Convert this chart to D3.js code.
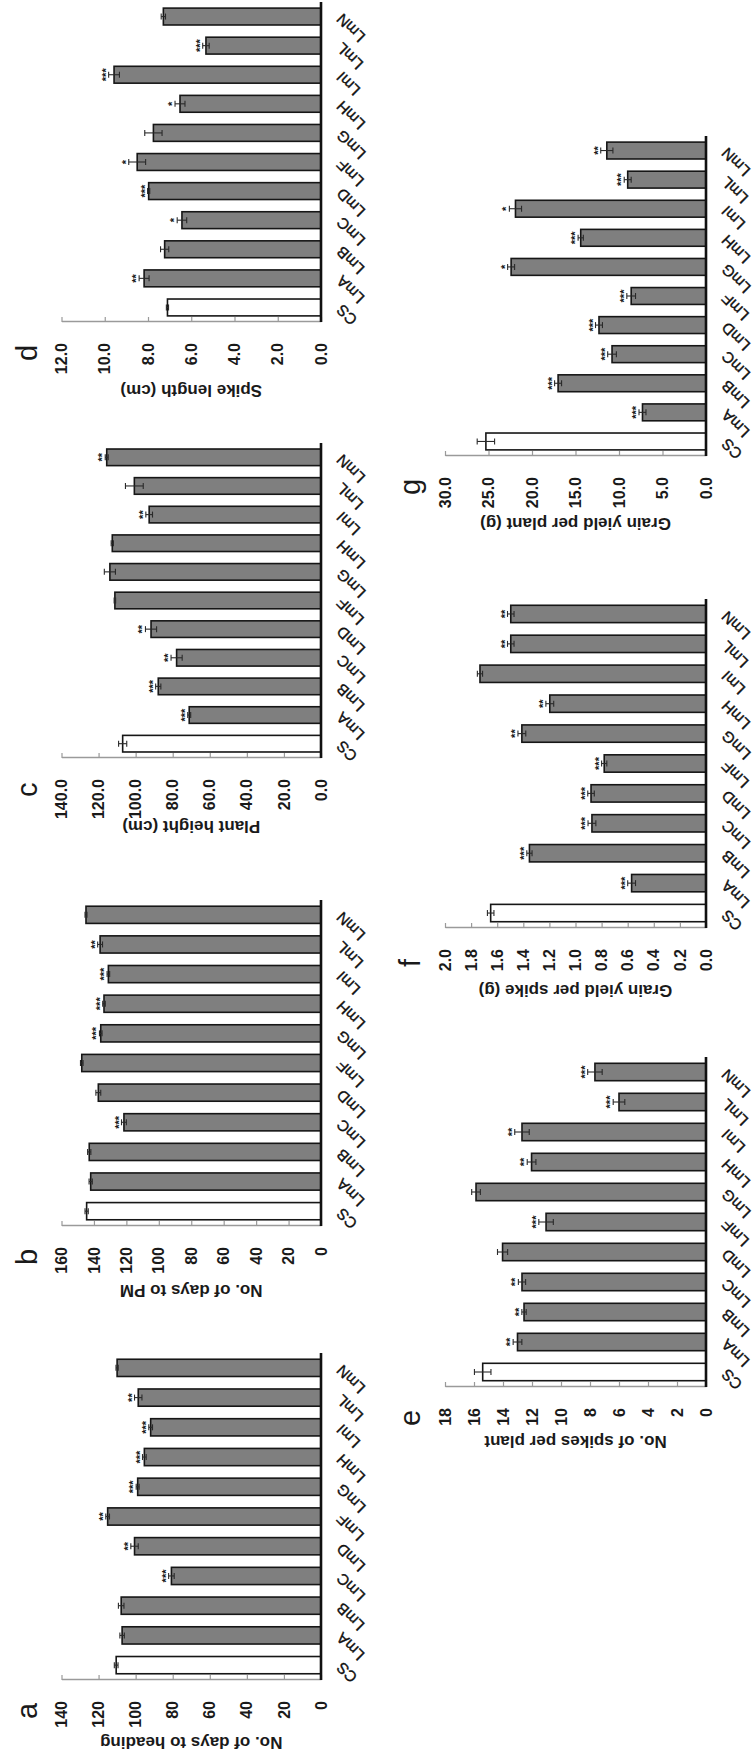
<!DOCTYPE html>
<html>
<head>
<meta charset="utf-8">
<script src="https://cdn.jsdelivr.net/npm/d3@7"></script>
<style>
  html, body { margin: 0; padding: 0; background: #fff; }
  svg { display: block; }
  text { font-family: "Liberation Sans", Arial, sans-serif; fill: #1a1a1a; }
</style>
</head>
<body>
<script>
// Lines: Chinese Spring (CS) and its addition lines
const categories = ["CS", "LmA", "LmB", "LmC", "LmD", "LmF", "LmG", "LmH", "LmI", "LmL", "LmN"];

// a: No. of days to heading
const daysToHeading    = [110.5, 107.3, 107.8, 80.7, 100.6, 115.1, 98.9, 95.3, 91.9, 98.6, 110.0];
const daysToHeadingErr = [1.0, 1.2, 1.5, 1.5, 2.0, 1.0, 0.8, 1.0, 1.0, 2.0, 0.6];
const daysToHeadingSig = ["", "", "", "***", "**", "**", "***", "***", "***", "**", ""];

// b: No. of days to PM
const daysToPM    = [144.5, 142.0, 142.9, 121.5, 137.3, 147.5, 135.8, 133.8, 131.1, 136.2, 144.9];
const daysToPMErr = [1.0, 1.0, 1.0, 1.5, 1.5, 0.8, 0.8, 0.8, 0.8, 1.5, 0.6];
const daysToPMSig = ["", "", "", "***", "", "", "***", "***", "***", "**", ""];

// c: Plant height (cm)
const plantHeight    = [107.0, 71.1, 87.8, 77.9, 91.7, 111.2, 113.9, 112.6, 92.7, 100.7, 115.6];
const plantHeightErr = [2.2, 0.8, 1.4, 3.0, 3.0, 0.4, 3.0, 0.6, 1.8, 4.8, 0.8];
const plantHeightSig = ["", "***", "***", "**", "**", "", "", "", "**", "", "**"];

// d: Spike length (cm)
const spikeLength    = [7.10, 8.18, 7.23, 6.43, 7.97, 8.50, 7.75, 6.52, 9.57, 5.32, 7.29];
const spikeLengthErr = [0.05, 0.23, 0.19, 0.22, 0.05, 0.39, 0.40, 0.23, 0.25, 0.15, 0.10];
const spikeLengthSig = ["", "**", "", "*", "***", "*", "", "*", "***", "***", ""];

// e: No. of spikes per plant
const spikesPerPlant    = [15.4, 13.0, 12.55, 12.69, 14.03, 11.03, 15.86, 12.03, 12.69, 6.0, 7.66];
const spikesPerPlantErr = [0.57, 0.3, 0.15, 0.25, 0.35, 0.5, 0.3, 0.3, 0.5, 0.4, 0.5];
const spikesPerPlantSig = ["", "**", "**", "**", "", "***", "", "**", "**", "***", "***"];

// f: Grain yield per spike (g)
const grainPerSpike    = [1.65, 0.57, 1.353, 0.874, 0.881, 0.78, 1.411, 1.197, 1.732, 1.496, 1.496];
const grainPerSpikeErr = [0.025, 0.03, 0.02, 0.03, 0.025, 0.02, 0.03, 0.03, 0.02, 0.025, 0.025];
const grainPerSpikeSig = ["", "***", "***", "***", "***", "***", "**", "**", "", "**", "**"];

// g: Grain yield per plant (g)
const grainPerPlant    = [25.3, 7.3, 17.0, 10.8, 12.3, 8.6, 22.4, 14.4, 21.9, 9.0, 11.4];
const grainPerPlantErr = [1.0, 0.4, 0.4, 0.5, 0.4, 0.5, 0.4, 0.3, 0.7, 0.4, 0.7];
const grainPerPlantSig = ["", "***", "***", "***", "***", "***", "*", "***", "*", "***", "**"];

// Value-axis settings per panel
const axisMax   = { a: 140, b: 160, c: 140, d: 12, e: 18, f: 2.0, g: 30 };
const axisStep  = { a: 20,  b: 20,  c: 20,  d: 2,  e: 2,  f: 0.2, g: 5 };
const axisFmt   = { a: "d", b: "d", c: ".1f", d: ".1f", e: "d", f: ".1f", g: ".1f" };
const axisTitle = {
  a: "No. of days to heading",
  b: "No. of days to PM",
  c: "Plant height (cm)",
  d: "Spike length (cm)",
  e: "No. of spikes per plant",
  f: "Grain yield per spike (g)",
  g: "Grain yield per plant (g)"
};

// The figure is laid out landscape (1762 x 754) and turned a quarter turn
// counter-clockwise onto the 754 x 1762 page.
const W = 754, H = 1762;

// Panel frames in landscape coordinates
const frames = [
  { id: "a", values: daysToHeading,  err: daysToHeadingErr,  sig: daysToHeadingSig,  x0: 82,   x1: 409,  base: 321, top: 61.5, titleOff: 62 },
  { id: "b", values: daysToPM,       err: daysToPMErr,       sig: daysToPMSig,       x0: 536,  x1: 862,  base: 321, top: 61.5, titleOff: 64 },
  { id: "c", values: plantHeight,    err: plantHeightErr,    sig: plantHeightSig,    x0: 1004, x1: 1319, base: 321, top: 61.5, titleOff: 68 },
  { id: "d", values: spikeLength,    err: spikeLengthErr,    sig: spikeLengthSig,    x0: 1440, x1: 1760, base: 321, top: 61.5, titleOff: 68 },
  { id: "e", values: spikesPerPlant, err: spikesPerPlantErr, sig: spikesPerPlantSig, x0: 375,  x1: 705,  base: 706, top: 445,  titleOff: 54 },
  { id: "f", values: grainPerSpike,  err: grainPerSpikeErr,  sig: grainPerSpikeSig,  x0: 834,  x1: 1163, base: 706, top: 445,  titleOff: 62 },
  { id: "g", values: grainPerPlant,  err: grainPerPlantErr,  sig: grainPerPlantSig,  x0: 1306, x1: 1626, base: 706, top: 445,  titleOff: 67 }
];

const svg = d3.select("body").append("svg")
  .attr("width", W)
  .attr("height", H);

svg.append("rect").attr("width", W).attr("height", H).attr("fill", "#fff");

const fig = svg.append("g")
  .attr("transform", `translate(0,${H}) rotate(-90)`);

frames.forEach(p => {
  const g = fig.append("g").attr("class", "panel-" + p.id);

  const x = d3.scaleBand()
    .domain(categories)
    .range([p.x0, p.x1])
    .paddingInner(0.42)
    .paddingOuter(0.21);

  const y = d3.scaleLinear()
    .domain([0, axisMax[p.id]])
    .range([p.base, p.top]);

  const rows = categories.map((c, i) => ({ c, v: p.values[i], e: p.err[i], s: p.sig[i] }));

  // value axis
  const ticks = d3.range(0, axisMax[p.id] + axisStep[p.id] / 2, axisStep[p.id]);
  const yAxis = d3.axisLeft(y)
    .tickValues(ticks)
    .tickSizeInner(-5)
    .tickSizeOuter(0)
    .tickPadding(21)
    .tickFormat(d3.format(axisFmt[p.id]));

  const ya = g.append("g")
    .attr("transform", `translate(${p.x0},0)`)
    .call(yAxis);
  ya.select(".domain").attr("stroke", "#9a9a9a").attr("stroke-width", 1.3);
  ya.selectAll(".tick line").attr("stroke", "#9a9a9a").attr("stroke-width", 1.2);
  ya.selectAll(".tick text")
    .attr("fill", "#1a1a1a")
    .style("font-family", "'Liberation Sans', Arial, sans-serif")
    .style("font-size", "16px")
    .style("font-weight", "bold");

  // bars
  g.append("g").selectAll("rect")
    .data(rows)
    .join("rect")
    .attr("x", d => x(d.c))
    .attr("y", d => y(d.v))
    .attr("width", x.bandwidth())
    .attr("height", d => y(0) - y(d.v))
    .attr("fill", d => d.c === "CS" ? "#ffffff" : "#7f7f7f")
    .attr("stroke", "#161616")
    .attr("stroke-width", 1.6);

  // error bars
  const eb = g.append("g")
    .attr("stroke", "#2a2a2a")
    .attr("stroke-width", 1.1)
    .selectAll("g")
    .data(rows)
    .join("g")
    .attr("transform", d => `translate(${x(d.c) + x.bandwidth() / 2},0)`);
  eb.append("line")
    .attr("y1", d => y(d.v - d.e))
    .attr("y2", d => y(d.v + d.e));
  eb.append("line")
    .attr("x1", -3).attr("x2", 3)
    .attr("y1", d => y(d.v + d.e))
    .attr("y2", d => y(d.v + d.e));
  eb.append("line")
    .attr("x1", -3).attr("x2", 3)
    .attr("y1", d => y(d.v - d.e))
    .attr("y2", d => y(d.v - d.e));

  // significance marks
  g.append("g").selectAll("text")
    .data(rows.filter(d => d.s))
    .join("text")
    .attr("x", d => x(d.c) + x.bandwidth() / 2)
    .attr("y", d => y(d.v + d.e) + 1)
    .attr("text-anchor", "middle")
    .style("font-size", "11px")
    .style("font-weight", "bold")
    .text(d => d.s);

  // category axis
  g.append("line")
    .attr("x1", p.x0).attr("x2", p.x1)
    .attr("y1", p.base).attr("y2", p.base)
    .attr("stroke", "#111")
    .attr("stroke-width", 2.6);

  // category labels
  g.append("g").selectAll("text")
    .data(categories)
    .join("text")
    .attr("transform", c => `translate(${x(c) + x.bandwidth() / 2 + 4},${p.base + 22}) rotate(-45)`)
    .attr("text-anchor", "end")
    .style("font-size", "15.5px")
    .style("font-weight", "500")
    .style("fill", "#111")
    .style("stroke", "#111")
    .style("stroke-width", 0.35)
    .text(c => c);

  // axis title
  g.append("text")
    .attr("transform", `translate(${p.x0 - p.titleOff},${(p.base + p.top) / 2}) rotate(-90)`)
    .attr("text-anchor", "middle")
    .attr("dominant-baseline", "central")
    .style("font-size", "17px")
    .style("font-weight", "bold")
    .text(axisTitle[p.id]);

  // panel letter
  g.append("text")
    .attr("x", p.x0 - 39)
    .attr("y", p.top - 25)
    .style("font-size", "29px")
    .text(p.id);
});
</script>
</body>
</html>
